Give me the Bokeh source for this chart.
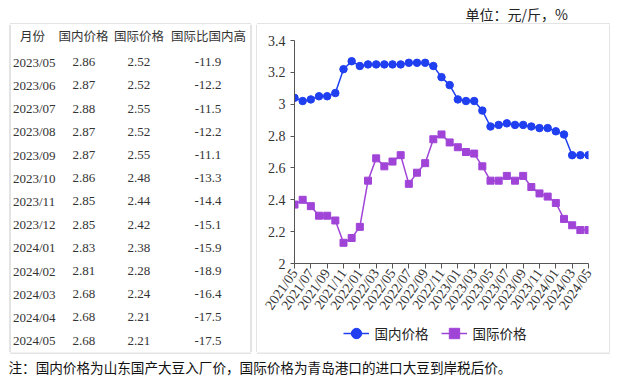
from bokeh.plotting import figure
from bokeh.models import FixedTicker, Legend, LegendItem, Range1d, GridBox
from bokeh.core.properties import value
from bokeh.embed import file_html
from bokeh.resources import INLINE

# ---------------- data ----------------
months = ["2021/05", "2021/06", "2021/07", "2021/08", "2021/09", "2021/10", "2021/11", "2021/12",
          "2022/01", "2022/02", "2022/03", "2022/04", "2022/05", "2022/06", "2022/07", "2022/08",
          "2022/09", "2022/10", "2022/11", "2022/12", "2023/01", "2023/02", "2023/03", "2023/04",
          "2023/05", "2023/06", "2023/07", "2023/08", "2023/09", "2023/10", "2023/11", "2023/12",
          "2024/01", "2024/02", "2024/03", "2024/04", "2024/05"]
domestic = [3.04, 3.02, 3.03, 3.05, 3.05, 3.07, 3.22, 3.27,
            3.24, 3.25, 3.25, 3.25, 3.25, 3.25, 3.26, 3.26,
            3.26, 3.24, 3.17, 3.12, 3.03, 3.02, 3.02, 2.96,
            2.86, 2.87, 2.88, 2.87, 2.87, 2.86, 2.85, 2.85,
            2.83, 2.81, 2.68, 2.68, 2.68]
international = [2.37, 2.40, 2.36, 2.30, 2.30, 2.27, 2.13, 2.16,
                 2.23, 2.52, 2.66, 2.61, 2.64, 2.68, 2.50, 2.57,
                 2.63, 2.78, 2.81, 2.76, 2.73, 2.70, 2.69, 2.61,
                 2.52, 2.52, 2.55, 2.52, 2.55, 2.48, 2.44, 2.42,
                 2.38, 2.28, 2.24, 2.21, 2.21]
series_names = ["国内价格", "国际价格"]

y_ticks = [2.0, 2.2, 2.4, 2.6, 2.8, 3.0, 3.2, 3.4]
y_tick_labels = ["2", "2.2", "2.4", "2.6", "2.8", "3", "3.2", "3.4"]

table_headers = ["月份", "国内价格", "国际价格", "国际比国内高"]
table_months = ["2023/05", "2023/06", "2023/07", "2023/08", "2023/09", "2023/10", "2023/11",
                "2023/12", "2024/01", "2024/02", "2024/03", "2024/04", "2024/05"]
table_domestic = ["2.86", "2.87", "2.88", "2.87", "2.87", "2.86", "2.85",
                  "2.85", "2.83", "2.81", "2.68", "2.68", "2.68"]
table_international = ["2.52", "2.52", "2.55", "2.52", "2.55", "2.48", "2.44",
                       "2.42", "2.38", "2.28", "2.24", "2.21", "2.21"]
table_gap = ["-11.9", "-12.2", "-11.5", "-12.2", "-11.1", "-13.3", "-14.4",
             "-15.1", "-15.9", "-18.9", "-16.4", "-17.5", "-17.5"]

unit_text = "单位：元/斤，%"
note_text = "注：国内价格为山东国产大豆入厂价，国际价格为青岛港口的进口大豆到岸税后价。"

BLUE = "#1f3ff0"
PURPLE = "#a044d8"
BOX = "#c8c8c8"
SERIF = "Liberation Serif"
CJK = "Noto Sans CJK SC"

TABLE_W, CHART_W, EDGE_W = 257, 352, 1
W = TABLE_W + CHART_W + EDGE_W
TOP_H, CHART_H, LEG_H, NOTE_H = 24, 297, 31, 25
ROW_H = CHART_H + LEG_H


def blank(width, height, fill="white", x_range=None, y_range=None):
    f = figure(width=width, height=height, output_backend="svg", toolbar_location=None,
               x_range=x_range or Range1d(0, width), y_range=y_range or Range1d(height, 0),
               x_axis_type=None, y_axis_type=None, frame_align=False,
               min_border=0, min_border_left=0, min_border_right=0,
               min_border_top=0, min_border_bottom=0)
    f.grid.visible = False
    f.outline_line_color = None
    f.background_fill_color = fill
    f.border_fill_color = fill
    return f


# ---------------- top strip (unit + top edges of boxes) ----------------
top = blank(W, TOP_H)
top.text(x=[465], y=[13.3], text=[unit_text], text_align="left", text_baseline="middle",
         text_font=value(CJK), text_font_size=value("14px"), text_color="#222222")
top.segment(x0=[9.5, 256.5], y0=[23.5, 23.5], x1=[250.5, W], y1=[23.5, 23.5],
            line_color=BOX, line_width=1)

# ---------------- table ----------------
tab = blank(TABLE_W, ROW_H)
tab.segment(x0=[9.5, 250.5, 256.5], y0=[0, 0, 0], x1=[9.5, 250.5, 256.5], y1=[ROW_H] * 3,
            line_color=BOX, line_width=1)
head_x = [32, 83, 138.5, 208]
tab.text(x=head_x, y=[11] * 4, text=table_headers, text_align="center", text_baseline="middle",
         text_font=value(CJK), text_font_size=value("12.5px"), text_color="#333333")
row_y = [37.7 + 23.2 * i for i in range(len(table_months))]
tab.text(x=[12.5] * len(row_y), y=row_y, text=table_months, text_align="left",
         text_baseline="middle", text_font=value(SERIF), text_font_size=value("13px"),
         text_color="#333333")
for cx, col in zip([83.3, 138.3, 207.5], (table_domestic, table_international, table_gap)):
    tab.text(x=[cx] * len(row_y), y=row_y, text=col, text_align="center",
             text_baseline="middle", text_font=value(SERIF), text_font_size=value("13px"),
             text_color="#333333")

# right edge of the chart box
edge = blank(EDGE_W, ROW_H, fill=BOX)

# ---------------- chart ----------------
p = figure(width=CHART_W, height=CHART_H, output_backend="svg", toolbar_location=None,
           x_range=Range1d(0, len(months) - 1), y_range=Range1d(y_ticks[0], y_ticks[-1]),
           frame_align=False,
           min_border_left=37, min_border_right=21, min_border_top=16, min_border_bottom=58)
p.grid.visible = False
p.outline_line_color = None
p.background_fill_color = "white"
p.border_fill_color = "white"

xs = list(range(len(months)))
p.line(xs, domestic, line_color=BLUE, line_width=1.5)
p.scatter(xs, domestic, marker="circle", size=7.5, fill_color=BLUE, line_color=BLUE)
p.line(xs, international, line_color=PURPLE, line_width=1.5)
p.scatter(xs, international, marker="square", size=7, fill_color=PURPLE, line_color=PURPLE)

p.yaxis.ticker = FixedTicker(ticks=y_ticks)
p.yaxis.major_label_overrides = {t: l for t, l in zip(y_ticks, y_tick_labels)}
p.xaxis.ticker = FixedTicker(ticks=xs[::2])
p.xaxis.major_label_overrides = {i: months[i] for i in xs[::2]}
p.xaxis.major_label_orientation = 0.96
for ax in (p.xaxis, p.yaxis):
    ax.axis_line_color = "#555555"
    ax.major_tick_line_color = "#555555"
    ax.minor_tick_line_color = None
    ax.major_tick_in = 0
    ax.major_label_text_font = SERIF
    ax.major_label_text_font_size = "14px"
    ax.major_label_text_color = "#333333"
p.yaxis.major_tick_out = 4
p.yaxis.major_label_standoff = 5
p.xaxis.major_tick_out = 5
p.xaxis.major_label_standoff = 2

# ---------------- legend strip (same series, drawn out of view; only the key shows) ----------------
leg = blank(CHART_W, LEG_H, x_range=p.x_range, y_range=Range1d(10, 11))
kd_l = leg.line(xs, domestic, line_color=BLUE, line_width=1.5)
kd_s = leg.scatter(xs, domestic, marker="circle", fill_color=BLUE, line_color=BLUE)
ki_l = leg.line(xs, international, line_color=PURPLE, line_width=1.5)
ki_s = leg.scatter(xs, international, marker="square", fill_color=PURPLE, line_color=PURPLE)
legend = Legend(items=[LegendItem(label=series_names[0], renderers=[kd_l, kd_s]),
                       LegendItem(label=series_names[1], renderers=[ki_l, ki_s])],
                location=(85.5, 6), orientation="horizontal",
                glyph_width=26, glyph_height=26, label_standoff=6, spacing=12,
                padding=0, margin=0, border_line_color=None, background_fill_alpha=0,
                label_text_font=CJK, label_text_font_size="13.5px", label_text_color="#222222")
leg.add_layout(legend)

# ---------------- note (+ bottom edges of boxes) ----------------
note = blank(W, NOTE_H)
note.segment(x0=[9.5, 256.5], y0=[0.5, 0.5], x1=[250.5, W], y1=[0.5, 0.5],
             line_color=BOX, line_width=1)
note.text(x=[8], y=[14.5], text=[note_text], text_align="left", text_baseline="middle",
          text_font=value(CJK), text_font_size=value("13.6px"), text_color="#111111")

layout = GridBox(children=[(top, 0, 0, 1, 3),
                           (tab, 1, 0, 2, 1), (p, 1, 1), (edge, 1, 2, 2, 1),
                           (leg, 2, 1),
                           (note, 3, 0, 1, 3)], spacing=0)
open("out.html", "w").write(file_html(layout, INLINE))
